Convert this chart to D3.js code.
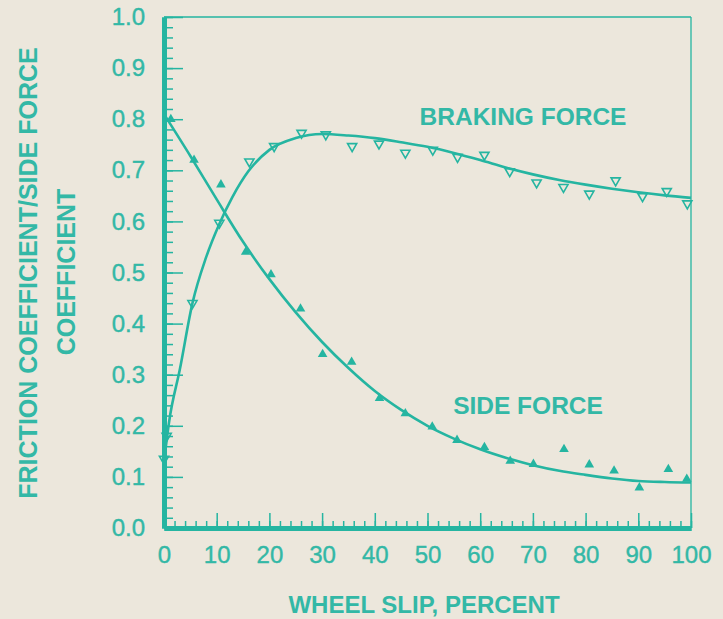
<!DOCTYPE html>
<html>
<head>
<meta charset="utf-8">
<script src="https://cdn.jsdelivr.net/npm/d3@7"></script>
<style>
html,body{margin:0;padding:0;background:#ece7dc;}
svg{display:block;}
</style>
</head>
<body>
<script>
// ---- data ----
const xTicks = [0,10,20,30,40,50,60,70,80,90,100];
const yTicks = [0,0.1,0.2,0.3,0.4,0.5,0.6,0.7,0.8,0.9,1.0];

// braking force measured points (open down-triangles)
const brakingSlip  = [0, 0.5, 5.4, 10.5, 16.2, 20.9, 26.1, 30.7, 35.7, 40.8, 45.8, 51, 55.7, 60.8, 65.6, 70.7, 75.8, 80.7, 85.7, 90.8, 95.4, 99.3];
const brakingCoef  = [0.135, 0.18, 0.44, 0.597, 0.717, 0.747, 0.773, 0.77, 0.747, 0.752, 0.734, 0.74, 0.726, 0.73, 0.698, 0.676, 0.667, 0.654, 0.68, 0.649, 0.659, 0.635];

// braking force fitted curve
const brakingCurveSlip = [0, 1, 3, 5.4, 8, 10.5, 13, 16, 20, 25, 30, 35, 40, 45, 50, 55, 60, 65, 70, 75, 80, 85, 90, 95, 100];
const brakingCurveCoef = [0.13, 0.21, 0.31, 0.44, 0.53, 0.595, 0.648, 0.698, 0.74, 0.763, 0.771, 0.768, 0.763, 0.755, 0.746, 0.734, 0.72, 0.705, 0.692, 0.681, 0.672, 0.664, 0.657, 0.651, 0.646];

// side force measured points (filled up-triangles)
const sideSlip = [1.3, 5.7, 10.8, 15.5, 20.3, 25.9, 30.1, 35.6, 40.9, 45.8, 50.9, 55.6, 60.8, 65.7, 70.1, 75.9, 80.7, 85.4, 90.2, 95.7, 99.2];
const sideCoef = [0.80, 0.72, 0.672, 0.54, 0.496, 0.429, 0.34, 0.325, 0.254, 0.224, 0.198, 0.172, 0.158, 0.131, 0.125, 0.154, 0.124, 0.112, 0.079, 0.115, 0.096];

// side force fitted curve
const sideCurveSlip = [0, 5, 10, 15, 20, 25, 30, 35, 40, 45, 50, 55, 60, 65, 70, 75, 80, 85, 90, 95, 100];
const sideCurveCoef = [0.81, 0.728, 0.643, 0.56, 0.487, 0.422, 0.364, 0.313, 0.268, 0.231, 0.2, 0.175, 0.154, 0.137, 0.123, 0.112, 0.104, 0.097, 0.092, 0.09, 0.089];

// ---- drawing ----
const W = 723, H = 619;
const teal = "#25b5a1";
const textTeal = "#33b8a6";
const font = "'Liberation Sans', Arial, Helvetica, sans-serif";

const svg = d3.select("body").append("svg").attr("width", W).attr("height", H);
svg.append("rect").attr("width", W).attr("height", H).attr("fill", "#ece7dc");

const x = d3.scaleLinear().domain([0, 100]).range([164, 691]);
const y = d3.scaleLinear().domain([0, 1]).range([528, 17]);

// thin frame top/right
svg.append("line").attr("x1", x(0)).attr("x2", x(100)).attr("y1", y(1)).attr("y2", y(1))
  .attr("stroke", teal).attr("stroke-width", 1.5);
svg.append("line").attr("x1", x(100)).attr("x2", x(100)).attr("y1", y(1)).attr("y2", y(0))
  .attr("stroke", teal).attr("stroke-width", 1.3);

function styleAxis(g, domainWidth) {
  g.select(".domain").attr("stroke", teal).attr("stroke-width", domainWidth);
  g.selectAll(".tick line").attr("stroke", teal).attr("stroke-width", 1.5);
  g.selectAll(".tick text").attr("fill", textTeal).attr("font-family", font).attr("font-size", 24)
    .attr("stroke", textTeal).attr("stroke-width", 0.4);
}

// y minor ticks
const yMinor = d3.range(0, 51).map(i => i / 50);
svg.append("g").attr("transform", `translate(${x(0)},0)`)
  .call(d3.axisLeft(y).tickValues(yMinor).tickSize(-9).tickSizeOuter(0).tickFormat(""))
  .call(g => styleAxis(g, 5));
// y major ticks + labels
svg.append("g").attr("transform", `translate(${x(0)},0)`)
  .call(d3.axisLeft(y).tickValues(yTicks).tickSize(-19).tickSizeOuter(0).tickPadding(19).tickFormat(d3.format(".1f")))
  .call(g => styleAxis(g, 5));

// x minor ticks
const xMinor = d3.range(0, 101, 2);
svg.append("g").attr("transform", `translate(0,${y(0)})`)
  .call(d3.axisBottom(x).tickValues(xMinor).tickSize(-7).tickSizeOuter(0).tickFormat(""))
  .call(g => styleAxis(g, 5));
// x major ticks + labels
svg.append("g").attr("transform", `translate(0,${y(0)})`)
  .call(d3.axisBottom(x).tickValues(xTicks).tickSize(-15).tickSizeOuter(0).tickPadding(18).tickFormat(d3.format("d")))
  .call(g => styleAxis(g, 5));

// curves
const line = d3.line().x(d => x(d[0])).y(d => y(d[1])).curve(d3.curveMonotoneX);
svg.append("path").datum(brakingCurveSlip.map((s, i) => [s, brakingCurveCoef[i]]))
  .attr("d", line).attr("fill", "none").attr("stroke", teal).attr("stroke-width", 2.6);
svg.append("path").datum(sideCurveSlip.map((s, i) => [s, sideCurveCoef[i]]))
  .attr("d", line).attr("fill", "none").attr("stroke", teal).attr("stroke-width", 2.6);

// markers
const triUp = d3.symbol().type(d3.symbolTriangle).size(40);
const triDown = d3.symbol().type(d3.symbolTriangle).size(36);
svg.append("g").selectAll("path").data(sideSlip.map((s, i) => [s, sideCoef[i]]))
  .join("path").attr("d", triUp)
  .attr("transform", d => `translate(${x(d[0])},${y(d[1])})`)
  .attr("fill", teal);
svg.append("g").selectAll("path").data(brakingSlip.map((s, i) => [s, brakingCoef[i]]))
  .join("path").attr("d", triDown)
  .attr("transform", d => `translate(${x(d[0])},${y(d[1])}) rotate(180)`)
  .attr("fill", "none").attr("stroke", teal).attr("stroke-width", 1.6);

// labels
svg.append("text").attr("x", 523).attr("y", 116).attr("dy", "0.35em").attr("text-anchor", "middle")
  .attr("font-family", font).attr("font-size", 24.5).attr("font-weight", "bold").attr("fill", textTeal).text("BRAKING FORCE");
svg.append("text").attr("x", 528).attr("y", 405).attr("dy", "0.35em").attr("text-anchor", "middle")
  .attr("font-family", font).attr("font-size", 24.5).attr("font-weight", "bold").attr("fill", textTeal).text("SIDE FORCE");

svg.append("text").attr("x", 424).attr("y", 605).attr("dy", "0.35em").attr("text-anchor", "middle")
  .attr("font-family", font).attr("font-size", 24).attr("font-weight", "bold").attr("fill", textTeal)
  .text("WHEEL SLIP, PERCENT");

svg.append("text").attr("transform", "translate(28,273) rotate(-90)").attr("dy", "0.35em").attr("text-anchor", "middle")
  .attr("font-family", font).attr("font-size", 25).attr("font-weight", "bold").attr("fill", textTeal)
  .text("FRICTION COEFFICIENT/SIDE FORCE");
svg.append("text").attr("transform", "translate(66,272) rotate(-90)").attr("dy", "0.35em").attr("text-anchor", "middle")
  .attr("font-family", font).attr("font-size", 25).attr("font-weight", "bold").attr("fill", textTeal)
  .text("COEFFICIENT");
</script>
</body>
</html>
